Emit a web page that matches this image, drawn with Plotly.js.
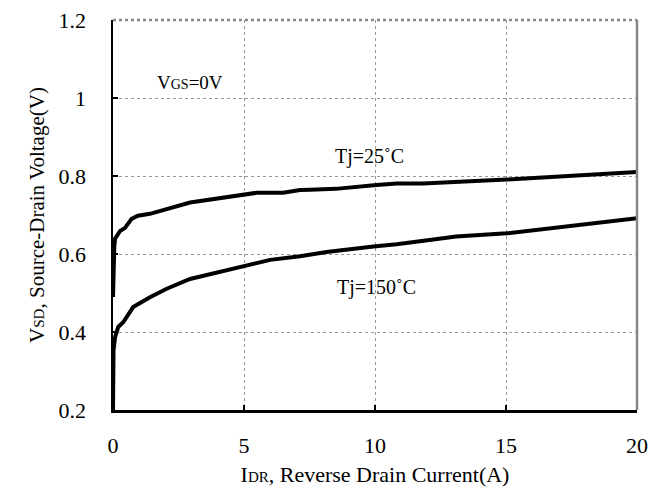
<!DOCTYPE html>
<html>
<head>
<meta charset="utf-8">
<script src="https://cdn.plot.ly/plotly-3.0.1.min.js"></script>
<style>html,body{margin:0;padding:0;background:#fff;}#chart{width:663px;height:495px;}</style>
</head>
<body>
<div id="chart"></div>
<script>
// Tj = 25 °C curve
const idr25 = [0, 0.02, 0.05, 0.08, 0.27, 0.46, 0.71, 0.95, 1.41, 2.94, 5.1, 5.48, 6.49, 7.14, 7.52, 8.02, 8.5, 10.06, 10.83, 11.83, 15.03, 20];
const vsd25 = [0.49, 0.57, 0.62, 0.639, 0.659, 0.667, 0.690, 0.698, 0.703, 0.732, 0.753, 0.757, 0.757, 0.764, 0.765, 0.765, 0.767, 0.777, 0.781, 0.781, 0.791, 0.810];
// Tj = 150 °C curve
const idr150 = [0, 0.0, 0.02, 0.08, 0.2, 0.39, 0.58, 0.77, 1.41, 2.05, 2.94, 3.96, 5.1, 5.6, 6.0, 7.14, 7.52, 8.15, 9.94, 10.83, 13.1, 15.03, 20];
const vsd150 = [0.2, 0.3, 0.353, 0.387, 0.413, 0.425, 0.447, 0.464, 0.489, 0.511, 0.536, 0.553, 0.570, 0.579, 0.585, 0.594, 0.598, 0.605, 0.619, 0.625, 0.645, 0.653, 0.692];

const xTicks = [0, 5, 10, 15, 20];
const yTicks = [0.2, 0.4, 0.6, 0.8, 1, 1.2];
const yTickText = ['0.2', '0.4', '0.6', '0.8', '1', '1.2'];

const labels = [
  {text: 'V<span style="font-size:14px">GS</span>=0V', x: 2.94, y: 1.04, size: 19},
  {text: 'Tj=25˚C', x: 9.8, y: 0.851, size: 20},
  {text: 'Tj=150˚C', x: 10.05, y: 0.515, size: 20}
];

const font = 'Liberation Serif, Times New Roman, serif';

const traces = [
  {x: idr25, y: vsd25, mode: 'lines', line: {color: '#000', width: 4}, hoverinfo: 'skip'},
  {x: idr150, y: vsd150, mode: 'lines', line: {color: '#000', width: 4}, hoverinfo: 'skip'}
];

const layout = {
  width: 663, height: 495,
  margin: {l: 113, r: 26, t: 20, b: 85},
  paper_bgcolor: '#fff', plot_bgcolor: '#fff',
  showlegend: false,
  font: {family: font, color: '#000', size: 20},
  xaxis: {
    range: [0, 20], tickvals: xTicks, ticktext: xTicks.map(String),
    ticks: 'inside', ticklen: 5, tickwidth: 2, tickcolor: '#000',
    showline: true, linecolor: '#000', linewidth: 2.5,
    showgrid: true, gridcolor: '#999', griddash: 'dot', gridwidth: 1,
    zeroline: false, ticklabelstandoff: 14,
    tickfont: {family: font, size: 22, color: '#000'},
    title: {text: 'I<span style="font-size:15px">DR</span>, Reverse Drain Current(A)', font: {family: font, size: 22, color: '#000'}, standoff: 10}
  },
  yaxis: {
    range: [0.2, 1.2], tickvals: yTicks, ticktext: yTickText,
    ticks: 'inside', ticklen: 5, tickwidth: 2, tickcolor: '#000',
    showline: true, linecolor: '#000', linewidth: 2.5,
    showgrid: true, gridcolor: '#999', griddash: 'dot', gridwidth: 1,
    zeroline: false, ticklabelstandoff: 20,
    tickfont: {family: font, size: 22, color: '#000'},
    title: {text: 'V<span style="font-size:15px">SD</span>, Source-Drain Voltage(V)', font: {family: font, size: 21, color: '#000'}, standoff: 8}
  },
  shapes: [
    {type: 'line', xref: 'paper', yref: 'paper', x0: 1, x1: 1, y0: 0, y1: 1, line: {color: '#888', width: 2.5}},
    {type: 'line', xref: 'paper', yref: 'paper', x0: 0, x1: 1, y0: 1, y1: 1, line: {color: '#888', width: 2.5, dash: 'dot'}}
  ],
  annotations: labels.map(a => ({
    x: a.x, y: a.y, xref: 'x', yref: 'y', text: a.text, showarrow: false,
    font: {family: font, size: a.size, color: '#000'}
  }))
};

Plotly.newPlot('chart', traces, layout, {displayModeBar: false, staticPlot: true});
</script>
</body>
</html>
